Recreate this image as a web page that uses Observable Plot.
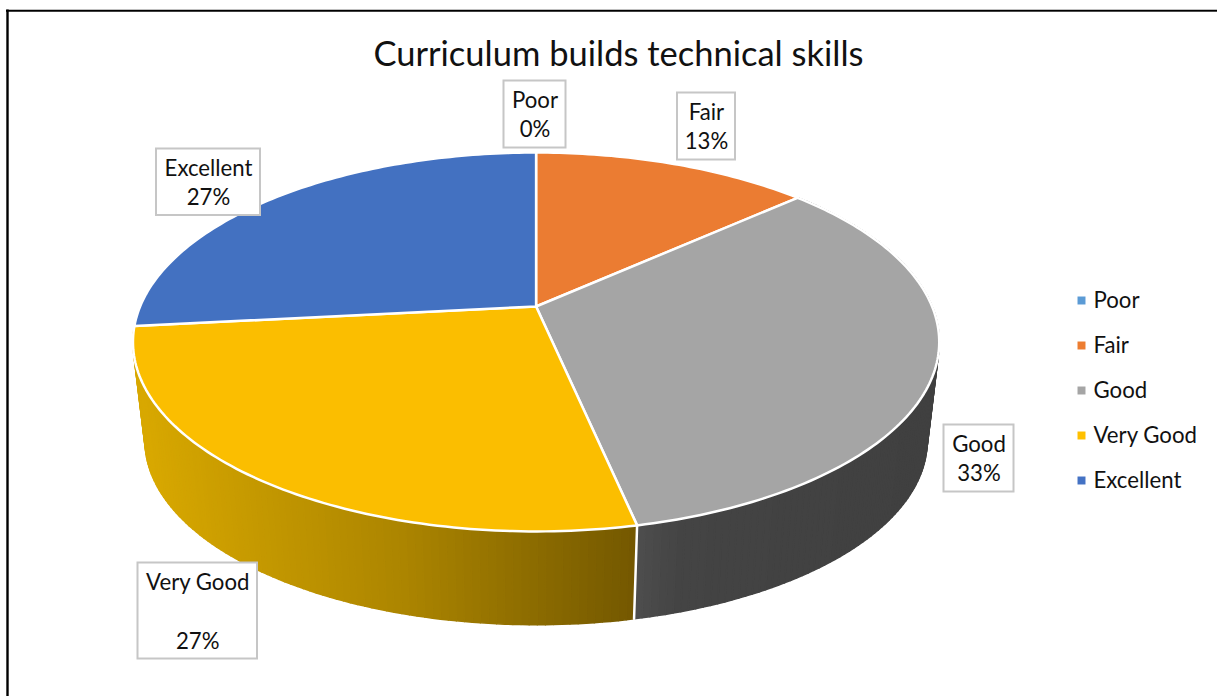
<!DOCTYPE html>
<html>
<head>
<meta charset="utf-8">
<style>html,body{margin:0;padding:0;background:#fff}svg{display:block}</style>
<script src="https://cdn.jsdelivr.net/npm/d3@7"></script>
<script src="https://cdn.jsdelivr.net/npm/@observablehq/plot@0.6"></script>
</head>
<body>
<div id="chart"></div>
<script>
// Data
const categories = ["Poor", "Fair", "Good", "Very Good", "Excellent"];
const shares = [0, 13.33, 33.33, 26.67, 26.67];
const percentLabels = ["0%", "13%", "33%", "27%", "27%"];
const title = "Curriculum builds technical skills";

// Styles
const colors = ["#5B9BD5", "#ED7D31", "#A5A5A5", "#FFC000", "#4472C4"];
const topColors = ["#5B9BD5", "#EB7C32", "#A5A5A5", "#FBBE00", "#4371C1"];
const sideShades = {
  "Good": {xs: [636, 680, 930], cs: ["#4E4E4E", "#444444", "#404040"]},
  "Very Good": {xs: [140, 400, 635], cs: ["#D8A800", "#AC8500", "#745800"]}
};
const font = "Lato, Carlito, sans-serif";
const ink = "#111111";

// Layout
const W = 1217, H = 696;
const pie3d = {cx: 535.6, cy: 306, R: 396, S: 182.8, k: 0.1873, depth: 100, shrink: 0.97};
const boxes = {
  "Poor": [503.5, 565.5, 80.5, 147.5],
  "Fair": [677, 735, 92.5, 159.5],
  "Good": [943.5, 1013.5, 424.5, 491.5],
  "Very Good": [137.5, 257, 562.5, 658.5],
  "Excellent": [156, 260, 148.5, 215]
};
const legendX = {swatch: 1081, text: 1093};
const legendY = [300, 345, 390, 435, 480];

// Perspective projection of a point on the pie's disc
function project(a, r = 1, lower = false) {
  const u = r * Math.sin(a), v = -r * Math.cos(a);
  const w = 1 - pie3d.k * v;
  const s = lower ? pie3d.shrink : 1;
  return {
    x: pie3d.cx + s * pie3d.R * u / w,
    y: pie3d.cy + (lower ? pie3d.depth : 0) + s * pie3d.S * v / w
  };
}

const arcs = d3.pie().sort(null)(shares).map((d, i) => ({
  name: categories[i], start: d.startAngle, end: d.endAngle, i
}));

const DEG = Math.PI / 180;

// Top faces
const topPoints = arcs.filter(d => d.end > d.start).flatMap(d => {
  const n = Math.ceil((d.end - d.start) / DEG);
  const pts = [{...project(0, 0), name: d.name, color: topColors[d.i]}];
  for (let j = 0; j <= n; ++j) {
    pts.push({...project(d.start + (d.end - d.start) * j / n), name: d.name, color: topColors[d.i]});
  }
  pts.push(pts[0]);
  return pts;
});

// Side wall, split in narrow strips to carry the shading
const sidePoints = arcs.filter(d => sideShades[d.name]).flatMap(d => {
  const shade = d3.scaleLinear().domain(sideShades[d.name].xs).range(sideShades[d.name].cs).clamp(true);
  const n = Math.ceil((d.end - d.start) / DEG);
  const out = [];
  for (let j = 0; j < n; ++j) {
    const a0 = d.start + (d.end - d.start) * j / n;
    const a1 = d.start + (d.end - d.start) * (j + 1) / n;
    const color = shade(project((a0 + a1) / 2).x);
    const strip = d.name + j;
    [project(a0), project(a1), project(a1, 1, true), project(a0, 1, true), project(a0)]
      .forEach(p => out.push({...p, strip, color}));
  }
  return out;
});

// White seam between the two visible walls
const seamAngle = arcs.find(d => d.name === "Good").end;
const seam = [project(seamAngle), project(seamAngle, 1, true)];

const labelRows = categories.map((name, i) => {
  const [x1, x2, y1, y2] = boxes[name];
  return {
    name, x1, x2, y1, y2,
    label: name + (name === "Very Good" ? "\n\n" : "\n") + percentLabels[i]
  };
});
const legendRows = categories.map((name, i) => ({name, color: colors[i], y: legendY[i]}));

const chart = Plot.plot({
  width: W, height: H,
  margin: 0,
  style: {background: "#fff", fontFamily: font},
  x: {domain: [0, W], range: [0, W], axis: null},
  y: {domain: [0, H], range: [0, H], axis: null},
  color: {type: "identity"},
  marks: [
    // frame
    Plot.ruleX([7], {y1: 9.5, y2: H, stroke: "#000", strokeWidth: 2.4}),
    Plot.ruleY([10.3], {x1: 6, x2: W, stroke: "#000", strokeWidth: 2}),
    Plot.ruleY([11], {x1: 1000, x2: W, stroke: "#555", strokeWidth: 0.6}),
    // side wall
    Plot.line(sidePoints, {x: "x", y: "y", z: "strip", fill: "color", stroke: "color", strokeWidth: 1.6, strokeLinejoin: "round", curve: "linear"}),
    Plot.line(seam, {x: "x", y: "y", stroke: "#fff", strokeWidth: 2.5}),
    // top faces
    Plot.line(topPoints, {x: "x", y: "y", z: "name", fill: "color", stroke: "#fff", strokeWidth: 2.5, strokeLinejoin: "round", curve: "linear"}),
    // title
    Plot.text([title], {x: () => 618, y: () => 54, text: d => d, fontSize: 34.5, fill: ink, textAnchor: "middle", lineAnchor: "middle"}),
    // data labels
    Plot.rect(labelRows, {x1: "x1", x2: "x2", y1: "y1", y2: "y2", fill: "#fff", stroke: "#C6C6C6", strokeWidth: 2}),
    Plot.text(labelRows, {x: d => (d.x1 + d.x2) / 2, y: d => (d.y1 + d.y2) / 2 - 1.3, text: "label", fontSize: 22.2, lineHeight: 1.33, fill: ink, textAnchor: "middle", lineAnchor: "middle"}),
    // legend
    Plot.dot(legendRows, {x: () => legendX.swatch, y: "y", r: 4.5, symbol: "square", fill: "color"}),
    Plot.text(legendRows, {x: () => legendX.text, y: "y", text: "name", fontSize: 22.2, fill: ink, textAnchor: "start", lineAnchor: "middle"})
  ]
});
document.getElementById("chart").appendChild(chart);
</script>
</body>
</html>
